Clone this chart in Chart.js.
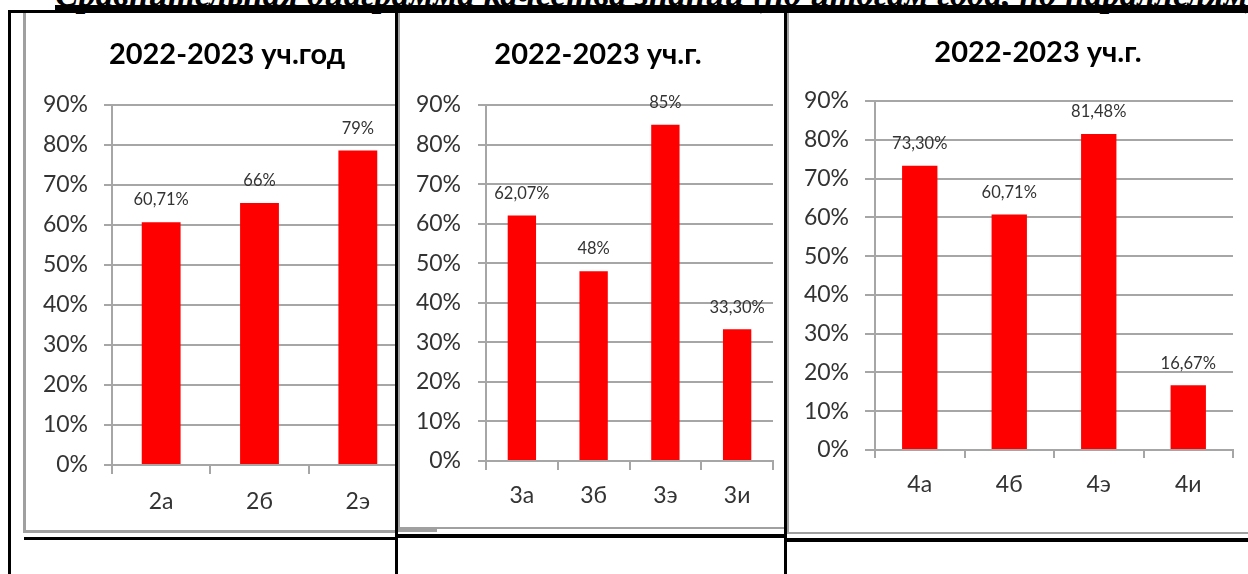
<!DOCTYPE html>
<html><head><meta charset="utf-8">
<script src="https://cdn.jsdelivr.net/npm/chart.js@4.4.1/dist/chart.umd.min.js"></script>
<style>
html,body{margin:0;padding:0;background:#fff;}
body{width:1248px;height:574px;overflow:hidden;position:relative;}
.blk{position:absolute;background:#000;}
.gry{position:absolute;background:#a0a0a0;}
.panel{position:absolute;overflow:hidden;}
#heading{position:absolute;left:55px;top:-25px;line-height:35px;white-space:nowrap;font:italic bold 35px 'Liberation Serif','DejaVu Serif',serif;color:#000;}
</style></head><body>
<div id="heading">Сравнительная диаграмма качества знаний (по итогам года, по параллелям)</div>

<div class="panel" id="p1" style="left:26px;top:13px;width:370px;height:517px;"><canvas id="c1" width="390" height="519"></canvas></div>
<div class="panel" id="p2" style="left:400px;top:13px;width:384px;height:514px;"><canvas id="c2" width="386" height="514"></canvas></div>
<div class="panel" id="p3" style="left:789px;top:13px;width:459px;height:519px;"><canvas id="c3" width="459" height="519"></canvas></div>

<!-- chart object borders -->
<div class="gry" style="left:23px;top:12px;width:3px;height:521px;"></div>
<div class="gry" style="left:23px;top:530px;width:373px;height:3px;"></div>
<div class="gry" style="left:26px;top:12px;width:370px;height:1px;background:#c8c8c8"></div>
<div class="gry" style="left:398px;top:12px;width:2px;height:517px;"></div>
<div class="gry" style="left:398px;top:527px;width:389px;height:2px;"></div>
<div class="gry" style="left:398px;top:529px;width:39px;height:3px;"></div>
<div class="gry" style="left:787px;top:12px;width:2px;height:522px;"></div>
<div class="gry" style="left:787px;top:532px;width:461px;height:2px;"></div>

<!-- table lines -->
<div class="blk" style="left:55px;top:5px;width:1193px;height:5px;"></div>
<div class="blk" style="left:8px;top:10px;width:1240px;height:3px;"></div>
<div class="blk" style="left:8px;top:10px;width:3px;height:564px;"></div>
<div class="blk" style="left:395px;top:10px;width:3px;height:564px;"></div>
<div class="blk" style="left:784px;top:10px;width:3px;height:564px;"></div>
<div class="blk" style="left:24px;top:537px;width:371px;height:3px;"></div>
<div class="blk" style="left:398px;top:534px;width:386px;height:4px;"></div>
<div class="blk" style="left:787px;top:538px;width:461px;height:4px;"></div>

<script>
// ---- data ----
const chartTitle1 = '2022-2023 уч.год';
const chartTitle2 = '2022-2023 уч.г.';
const chartTitle3 = '2022-2023 уч.г.';

const classes2 = ['2а', '2б', '2э'];
const quality2 = [60.71, 65.5, 78.6];
const labels2 = ['60,71%', '66%', '79%'];

const classes3 = ['3а', '3б', '3э', '3и'];
const quality3 = [62.07, 48, 85, 33.3];
const labels3 = ['62,07%', '48%', '85%', '33,30%'];

const classes4 = ['4а', '4б', '4э', '4и'];
const quality4 = [73.3, 60.71, 81.48, 16.67];
const labels4 = ['73,30%', '60,71%', '81,48%', '16,67%'];

const yMin = 0, yMax = 90, yStep = 10;

// ---- style ----
const FONT = "Lato, 'Open Sans', sans-serif";
const GRID = '#a6a6a6';
const TEXT = '#333333';

const titlePlugin = {
  id: 'panelTitle',
  afterDraw(chart, args, opts) {
    const ctx = chart.ctx;
    ctx.save();
    ctx.font = 'bold ' + opts.size + 'px ' + FONT;
    ctx.fillStyle = '#000';
    ctx.textAlign = 'center';
    ctx.textBaseline = 'middle';
    ctx.fillText(opts.text, opts.x, opts.y);
    ctx.restore();
  }
};

const valueLabelPlugin = {
  id: 'valueLabels',
  afterDatasetsDraw(chart, args, opts) {
    const ctx = chart.ctx;
    const meta = chart.getDatasetMeta(0);
    ctx.save();
    ctx.font = opts.size + 'px ' + FONT;
    ctx.fillStyle = TEXT;
    ctx.textAlign = 'center';
    ctx.textBaseline = 'middle';
    meta.data.forEach((bar, i) => {
      ctx.fillText(opts.texts[i], bar.x, bar.y - opts.offset);
    });
    ctx.restore();
  }
};

function makeChart(id, cats, vals, texts, title, g) {
  return new Chart(document.getElementById(id), {
    type: 'bar',
    data: {
      labels: cats,
      datasets: [{
        data: vals,
        backgroundColor: '#ff0000',
        borderWidth: 0,
        barPercentage: 0.395,
        categoryPercentage: 1
      }]
    },
    options: {
      responsive: false,
      animation: false,
      events: [],
      layout: { padding: { top: g.top, right: g.right, left: 0, bottom: 0 } },
      plugins: {
        legend: { display: false },
        tooltip: { enabled: false },
        title: { display: false },
        panelTitle: { text: title, x: g.tx, y: g.ty, size: 29 },
        valueLabels: { texts: texts, offset: 22, size: 16.5 }
      },
      scales: {
        y: {
          min: yMin, max: yMax,
          ticks: { stepSize: yStep, callback: v => v + '%', color: TEXT, font: { family: FONT, size: 23 }, padding: g.ypad },
          grid: { color: GRID, lineWidth: 2, tickLength: g.ytl, drawTicks: true },
          border: { display: true, color: GRID, width: 2 },
          afterFit(s) { s.width = 86; }
        },
        x: {
          ticks: { color: TEXT, font: { family: FONT, size: 23 }, padding: g.xpad, maxRotation: 0 },
          grid: { drawOnChartArea: false, drawTicks: true, tickLength: g.xtl, color: GRID, lineWidth: 2 },
          border: { display: true, color: GRID, width: 2 },
          afterFit(s) { s.height = g.xh; }
        }
      }
    },
    plugins: [titlePlugin, valueLabelPlugin]
  });
}

makeChart('c1', classes2, quality2, labels2, chartTitle1,
  { top: 92, right: 9, xh: 67, tx: 201, ty: 42, ypad: 16, ytl: 8, xtl: 9, xpad: 14 });
makeChart('c2', classes3, quality3, labels3, chartTitle2,
  { top: 92, right: 13, xh: 66, tx: 198, ty: 42, ypad: 17, ytl: 8, xtl: 9, xpad: 12 });
makeChart('c3', classes4, quality4, labels4, chartTitle3,
  { top: 88, right: 15, xh: 82, tx: 249, ty: 40, ypad: 16, ytl: 10, xtl: 8, xpad: 13 });
</script>
</body></html>
